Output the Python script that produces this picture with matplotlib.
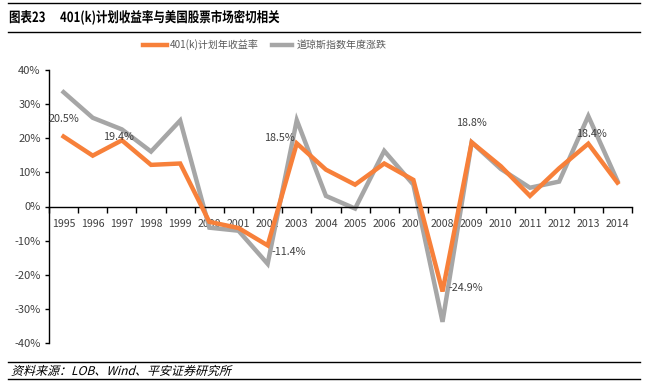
import matplotlib
matplotlib.use("Agg")
import matplotlib.pyplot as plt
import numpy as np
from matplotlib.lines import Line2D
from matplotlib.textpath import TextPath
from matplotlib.patches import PathPatch
from matplotlib.font_manager import FontProperties
from matplotlib.transforms import Affine2D

plt.rcParams['font.family'] = ['Noto Sans CJK SC', 'DejaVu Sans']

years = ['1995', '1996', '1997', '1998', '1999', '2000', '2001', '2002', '2003', '2004',
         '2005', '2006', '2007', '2008', '2009', '2010', '2011', '2012', '2013', '2014']
k401 = [20.5, 14.9, 19.4, 12.2, 12.6, -4.5, -6.3, -11.4, 18.5, 10.8,
        6.4, 12.6, 7.8, -24.9, 18.8, 11.8, 3.1, 11.2, 18.4, 7.0]
djia = [33.5, 26.0, 22.6, 16.1, 25.2, -6.2, -7.1, -16.8, 25.3, 3.1,
        -0.6, 16.3, 6.4, -33.8, 18.8, 11.0, 5.5, 7.3, 26.5, 7.5]
yticks = [-40, -30, -20, -10, 0, 10, 20, 30, 40]
name_k = '401(k)计划年收益率'
name_d = '道琼斯指数年度涨跌'
title_no = '图表23'
title = '401(k)计划收益率与美国股票市场密切相关'
source = '资料来源：LOB、Wind、平安证券研究所'
labeled = {0: 20.5, 2: 19.4, 7: -11.4, 8: 18.5, 13: -24.9, 14: 18.8, 18: 18.4}

W, H = 646, 383
fig = plt.figure(figsize=(W / 100, H / 100), dpi=100)
ax = fig.add_axes([49 / W, 1 - 343 / H, (632 - 49) / W, (343 - 70) / H])

orange = '#F7803A'
gray = '#A6A6A6'
x = np.arange(len(years))
ax.plot(x, djia, color=gray, lw=3.2, solid_joinstyle='miter', zorder=2)
ax.plot(x, k401, color=orange, lw=3.2, solid_joinstyle='miter', zorder=3)

ax.set_xlim(-0.5, len(years) - 0.5)
ax.set_ylim(-40, 40)
ax.set_yticks(yticks)
ax.set_yticklabels([f'{v}%' for v in yticks])
ax.set_xticks(x)
ax.set_xticklabels(years)
ax.set_xticks(np.arange(-0.5, len(years), 1), minor=True)
ax.tick_params(axis='x', which='major', length=0, pad=9, labelsize=7.6, colors='#404040')
ax.tick_params(axis='x', which='minor', length=4, width=1, direction='out', color='black')
ax.tick_params(axis='y', length=3, width=1, direction='out', labelsize=8, colors='#404040', pad=3)
ax.tick_params(axis='y', color='black')
for s in ['top', 'right']:
    ax.spines[s].set_visible(False)
ax.spines['bottom'].set_position(('data', 0))
ax.spines['left'].set_linewidth(1)
ax.spines['bottom'].set_linewidth(1)

# data labels: (dx, dy, ha, va)
offsets = {0: (0, 3.7, 'center', 'bottom'), 2: (-0.1, -0.5, 'center', 'bottom'),
           7: (0.15, -0.5, 'left', 'top'), 8: (-0.06, 0.1, 'right', 'bottom'),
           13: (0.19, 2.6, 'left', 'top'), 14: (0, 4.2, 'center', 'bottom'),
           18: (0.1, 1.4, 'center', 'bottom')}
for i, v in labeled.items():
    dx, dy, ha, va = offsets[i]
    ax.text(i + dx, v + dy, f'{v}%', ha=ha, va=va,
            fontsize=7.8, color='#404040', zorder=4)

# legend
fig.add_artist(Line2D([143 / W, 167 / W], [1 - 45 / H] * 2, color=orange, lw=3.2))
fig.text(170 / W, 1 - 45 / H, name_k, fontsize=7.2, color='#595959', va='center')
fig.add_artist(Line2D([272 / W, 292 / W], [1 - 45 / H] * 2, color=gray, lw=3.2))
fig.text(297 / W, 1 - 45 / H, name_d, fontsize=7.2, color='#595959', va='center')


def path_text(s, x0, ybase, size, sx=1.0, skew=0.0, bold=False):
    fp = FontProperties(family=['Noto Sans CJK SC', 'DejaVu Sans'],
                        weight='bold' if bold else 'normal')
    tp = TextPath((0, 0), s, size=size, prop=fp)
    tr = Affine2D().scale(sx, 1.0).skew_deg(skew, 0).translate(x0, H - ybase)
    patch = PathPatch(tp, color='black', lw=0)
    patch.set_transform(tr)
    fig.add_artist(patch)


# title and frame lines
fig.add_artist(Line2D([8 / W, 640 / W], [1 - 3 / H] * 2, color='black', lw=1))
path_text(title_no, 9, 22, 14, sx=0.82, bold=True)
path_text(title, 60, 22, 14, sx=0.82, bold=True)
fig.add_artist(Line2D([8 / W, 640 / W], [1 - 32 / H] * 2, color='black', lw=1))
fig.add_artist(Line2D([8 / W, 640 / W], [1 - 362 / H] * 2, color='black', lw=1))
path_text(source, 11, 375, 12, skew=15)
fig.add_artist(Line2D([8 / W, 640 / W], [1 - 379 / H] * 2, color='black', lw=1))

fig.savefig('out.png', dpi=100)
